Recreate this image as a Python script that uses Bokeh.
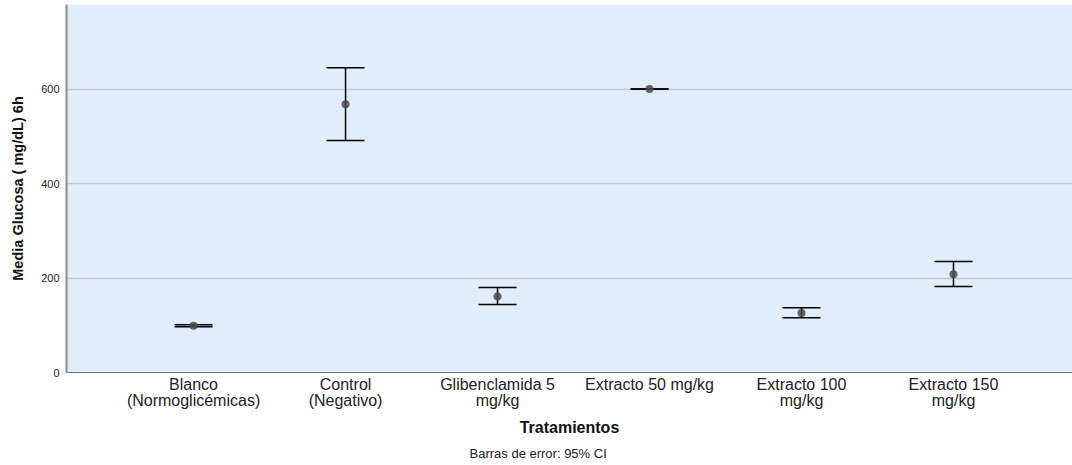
from bokeh.plotting import figure
from bokeh.models import (ColumnDataSource, Whisker, TeeHead, Range1d, FixedTicker, Title)
from bokeh.embed import file_html
from bokeh.resources import INLINE

categories = ["Blanco\n(Normoglicémicas)", "Control\n(Negativo)", "Glibenclamida 5\nmg/kg",
              "Extracto 50 mg/kg", "Extracto 100\nmg/kg", "Extracto 150\nmg/kg"]
means = [99, 568, 161, 600, 126, 208]
ci_low = [97, 491, 144, 600, 116, 182]
ci_high = [101, 645, 180, 600, 137, 235]
y_ticks = [0, 200, 400, 600]

xpos = list(range(len(categories)))
src = ColumnDataSource(dict(x=xpos, mean=means, lo=ci_low, hi=ci_high))

FONT = "Liberation Sans"

p = figure(width=1072, height=465, output_backend="svg", toolbar_location=None,
           x_range=Range1d(-0.836, 5.783), y_range=Range1d(0, 779),
           min_border_left=66, min_border_right=0, min_border_top=4, min_border_bottom=92)

p.background_fill_color = "#E1EDFA"
p.border_fill_color = "white"
p.outline_line_color = None

w = Whisker(source=src, base="x", upper="hi", lower="lo", line_color="black", line_width=1.5,
            upper_head=TeeHead(size=38, line_color="black", line_width=1.5),
            lower_head=TeeHead(size=38, line_color="black", line_width=1.5))
p.add_layout(w)
p.scatter("x", "mean", source=src, size=8, fill_color="#4a4a4a", line_color=None, fill_alpha=0.85)

# axes
p.xaxis.ticker = FixedTicker(ticks=xpos)
p.xaxis.major_label_overrides = {i: c for i, c in enumerate(categories)}
p.xaxis.major_label_text_font = FONT
p.xaxis.major_label_text_font_size = "16px"
p.xaxis.major_label_text_line_height = 0.95
p.xaxis.major_label_text_color = "#222222"
p.xaxis.major_label_standoff = -3
p.xaxis.major_tick_line_color = None
p.xaxis.minor_tick_line_color = None
p.xaxis.axis_line_color = "#6e6e6e"
p.xaxis.axis_line_width = 1
p.xaxis.axis_label = "Tratamientos"
p.xaxis.axis_label_text_font = FONT
p.xaxis.axis_label_text_font_size = "16px"
p.xaxis.axis_label_text_font_style = "bold"
p.xaxis.axis_label_text_color = "#111111"
p.xaxis.axis_label_standoff = 7

p.yaxis.ticker = FixedTicker(ticks=y_ticks)
p.yaxis.major_label_text_font = FONT
p.yaxis.major_label_text_font_size = "11px"
p.yaxis.major_label_text_color = "#222222"
p.yaxis.major_label_standoff = 1
p.yaxis.major_tick_line_color = None
p.yaxis.minor_tick_line_color = None
p.yaxis.axis_line_color = "#8c8c8c"
p.yaxis.axis_line_width = 2
p.yaxis.axis_label = "Media Glucosa ( mg/dL) 6h"
p.yaxis.axis_label_text_font = FONT
p.yaxis.axis_label_text_font_size = "14.5px"
p.yaxis.axis_label_text_font_style = "bold"
p.yaxis.axis_label_text_color = "#111111"
p.yaxis.axis_label_standoff = 12

p.xgrid.grid_line_color = None
p.ygrid.grid_line_color = "#C4C9CF"
p.ygrid.grid_line_width = 1.3

p.add_layout(Title(text="Barras de error: 95% CI", align="left", offset=403,
                   text_font=FONT, text_font_size="13px", text_font_style="normal",
                   text_color="#222222"), "below")

open("out.html", "w").write(file_html(p, INLINE))
